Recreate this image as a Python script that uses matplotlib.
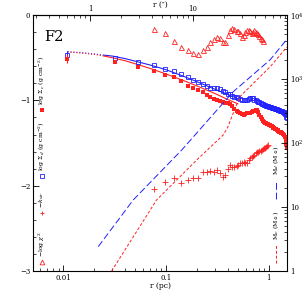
import numpy as np
import matplotlib
matplotlib.use("Agg")
import matplotlib.pyplot as plt
from matplotlib.ticker import FixedLocator, NullFormatter, LogLocator, FuncFormatter

plt.rcParams['font.family'] = ['DejaVu Serif']
plt.rcParams['mathtext.fontset'] = 'dejavuserif'

# ---------------------------------------------------------------------------
# Data
# ---------------------------------------------------------------------------
# ring radii (pc)
r_pc = [0.011, 0.032, 0.054, 0.076, 0.097, 0.119, 0.140, 0.162, 0.184, 0.205,
        0.227, 0.248, 0.270, 0.292, 0.313, 0.335, 0.356, 0.378, 0.400, 0.421,
        0.443, 0.464, 0.486, 0.508, 0.529, 0.551, 0.572, 0.594, 0.616, 0.637,
        0.659, 0.680, 0.702, 0.724, 0.745, 0.767, 0.788, 0.810, 0.832, 0.853,
        0.875, 0.896, 0.918, 0.940, 0.961, 0.983, 1.004, 1.026, 1.048, 1.069,
        1.091, 1.112, 1.134, 1.156, 1.177, 1.199, 1.220, 1.242, 1.264, 1.285,
        1.307, 1.328, 1.350, 1.372, 1.393, 1.415, 1.436, 1.458, 1.480, 1.501]

log_sigma_d = [-0.47, -0.50, -0.55, -0.59, -0.63, -0.66, -0.69, -0.73, -0.76, -0.79,
               -0.81, -0.83, -0.85, -0.855, -0.86, -0.87, -0.89, -0.90, -0.92, -0.93,
               -0.945, -0.955, -0.965, -0.975, -0.98, -0.99, -0.995, -1.00, -0.99, -0.985,
               -0.975, -0.97, -0.975, -0.99, -1.00, -1.01, -1.02, -1.02, -1.03, -1.04,
               -1.045, -1.05, -1.055, -1.06, -1.065, -1.07, -1.075, -1.08, -1.08, -1.085,
               -1.09, -1.09, -1.095, -1.10, -1.10, -1.105, -1.11, -1.11, -1.115, -1.12,
               -1.12, -1.125, -1.13, -1.135, -1.14, -1.15, -1.16, -1.17, -1.19, -1.21]

log_sigma_c = [-0.51, -0.555, -0.606, -0.653, -0.703, -0.72, -0.775, -0.83, -0.85, -0.88,
               -0.90, -0.935, -0.96, -0.98, -1.00, -1.01, -1.015, -1.025, -1.03, -1.04,
               -1.07, -1.10, -1.12, -1.14, -1.15, -1.165, -1.17, -1.16, -1.15, -1.145,
               -1.145, -1.14, -1.13, -1.12, -1.11, -1.115, -1.14, -1.17, -1.20, -1.22,
               -1.24, -1.255, -1.26, -1.27, -1.275, -1.28, -1.285, -1.29, -1.30, -1.305,
               -1.31, -1.32, -1.325, -1.33, -1.34, -1.345, -1.35, -1.36, -1.365, -1.37,
               -1.375, -1.38, -1.385, -1.39, -1.40, -1.41, -1.43, -1.46, -1.51, -1.56]

# chi^2 and k profiles (rings 3..45)
r_prof = r_pc[3:46]
log_chi2 = [-0.168, -0.207, -0.30, -0.375, -0.407, -0.44, -0.454, -0.407, -0.375, -0.313,
            -0.285, -0.258, -0.273, -0.313, -0.313, -0.234, -0.176, -0.149, -0.168, -0.184,
            -0.188, -0.21, -0.254, -0.234, -0.196, -0.176, -0.176, -0.188, -0.21, -0.193,
            -0.18, -0.193, -0.21, -0.223, -0.246, -0.264, -0.281, -0.305]
k_vir = [-2.04, -1.954, -1.914, -1.973, -1.934, -1.907, -1.907, -1.844, -1.844, -1.829,
         -1.837, -1.817, -1.856, -1.896, -1.876, -1.805, -1.759, -1.778, -1.782, -1.77,
         -1.759, -1.739, -1.73, -1.72, -1.73, -1.739, -1.70, -1.68, -1.665, -1.653,
         -1.635, -1.62, -1.61, -1.60, -1.595, -1.59, -1.58, -1.574, -1.563, -1.555,
         -1.545, -1.535, -1.524]

# model fits
r_fit_in = [0.011, 0.015, 0.020, 0.025]
fit_d_in = [-0.43, -0.44, -0.455, -0.47]
fit_c_in = [-0.43, -0.445, -0.46, -0.48]
r_fit = [0.025, 0.03, 0.04, 0.05, 0.07, 0.1, 0.15, 0.2, 0.3, 0.4, 0.5]
fit_d = [-0.47, -0.48, -0.51, -0.54, -0.585, -0.64, -0.72, -0.78, -0.87, -0.93, -0.98]
fit_c = [-0.48, -0.50, -0.535, -0.57, -0.625, -0.69, -0.77, -0.83, -0.92, -0.99, -1.04]

# enclosed masses (Msun)
r_md = [0.0219, 0.048, 0.142, 0.45, 1.03, 1.5]
m_d = [2.4, 12.9, 77.6, 631, 1995, 4170]
r_mc = [0.0296, 0.081, 0.21, 0.36, 0.40, 0.52, 1.03, 1.5]
m_c = [1.0, 12.9, 59, 133, 178, 525, 1550, 3160]

PC_PER_ARCSEC = 0.0182
RED = "#ff2020"
BLUE = "#2020ff"

# ---------------------------------------------------------------------------
# Figure
# ---------------------------------------------------------------------------
fig = plt.figure(figsize=(3.05, 3.05), dpi=100)
ax = fig.add_axes([0.108, 0.1115, 0.834, 0.839])

ax.plot(r_fit_in, fit_d_in, ':', color=BLUE, lw=0.8)
ax.plot(r_fit_in, fit_c_in, ':', color=RED, lw=0.8)
ax.plot(r_fit, fit_d, '-', color=BLUE, lw=0.8)
ax.plot(r_fit, fit_c, '-', color=RED, lw=0.8)

ax.errorbar(r_pc[:1], log_sigma_d[:1], yerr=0.05, fmt='none', ecolor=BLUE, lw=0.8)
ax.errorbar(r_pc[:1], log_sigma_c[:1], yerr=0.05, fmt='none', ecolor=RED, lw=0.8)
ax.plot(r_pc, log_sigma_d, 's', mfc='none', mec=BLUE, ms=3.2, mew=0.6)
ax.plot(r_pc, log_sigma_c, 's', color=RED, ms=3.2, mew=0)
ax.plot(r_prof[:len(log_chi2)], log_chi2, '^', mfc='none', mec=RED, ms=3.6, mew=0.6)
ax.plot(r_prof, k_vir, '+', color=RED, ms=4, mew=0.6)

ax.set_xscale('log')
ax.set_xlim(0.00507, 1.517)
ax.set_ylim(-3, 0)
ax.yaxis.set_major_locator(FixedLocator([-3, -2, -1, 0]))
ax.yaxis.set_minor_locator(FixedLocator(np.arange(-3, 0.01, 0.2)))
ax.yaxis.set_major_formatter(FuncFormatter(lambda v, p: f"{int(round(v))}".replace('-', '\u2212')))
ax.xaxis.set_major_locator(FixedLocator([0.01, 0.1, 1]))
ax.xaxis.set_major_formatter(FuncFormatter(lambda v, p: f"{v:g}"))
ax.xaxis.set_minor_locator(LogLocator(base=10, subs=np.arange(2, 10)))
ax.xaxis.set_minor_formatter(NullFormatter())
ax.tick_params(which='both', direction='in', labelsize=5, top=False, right=False, pad=2)
ax.tick_params(which='major', length=4, width=0.6)
ax.tick_params(which='minor', length=2, width=0.5)
for s in ax.spines.values():
    s.set_linewidth(0.7)

# right axis: enclosed masses
ax2 = ax.twinx()
ax2.set_yscale('log')
ax2.set_ylim(1, 1e4)
ax2.plot(r_md, m_d, color=BLUE, lw=0.7, dashes=(7, 3))
ax2.plot(r_mc, m_c, color=RED, lw=0.7, dashes=(3, 2))
ax2.yaxis.set_major_locator(FixedLocator([1, 10, 100, 1000, 10000]))
ax2.yaxis.set_major_formatter(FuncFormatter(
    lambda v, p: {1: '1', 10: '10', 100: '$10^2$', 1000: '$10^3$', 10000: '$10^4$'}[int(round(v))]))
ax2.yaxis.set_minor_locator(LogLocator(base=10, subs=np.arange(2, 10)))
ax2.yaxis.set_minor_formatter(NullFormatter())
ax2.tick_params(which='both', direction='in', labelsize=5, pad=2)
ax2.tick_params(which='major', length=4, width=0.6)
ax2.tick_params(which='minor', length=2, width=0.5)

# top axis: arcsec
top = ax.secondary_xaxis('top', functions=(lambda r: r / PC_PER_ARCSEC, lambda a: a * PC_PER_ARCSEC))
top.set_xscale('log')
top.xaxis.set_major_locator(FixedLocator([1, 10]))
top.xaxis.set_major_formatter(FuncFormatter(lambda v, p: f"{v:g}"))
top.xaxis.set_minor_locator(LogLocator(base=10, subs=np.arange(2, 10)))
top.xaxis.set_minor_formatter(NullFormatter())
top.tick_params(which='both', direction='in', labelsize=5, pad=1.5)
top.tick_params(which='major', length=4, width=0.6)
top.tick_params(which='minor', length=2, width=0.5)

# axis titles placed in figure coordinates
fig.text(160 / 305, 1 - 5 / 305, 'r (\u2033)', fontsize=5.5, ha='center', va='center')
fig.text(160 / 305, 1 - 286 / 305, 'r (pc)', fontsize=5.5, ha='center', va='center')

ax.text(0.045, 0.94, 'F2', transform=ax.transAxes, fontsize=10.5, va='top', ha='left')

# left in-plot legend (rotated labels)
xl = 0.035
legend_items = [
    (0.63, 's', dict(color=RED, mew=0), r'log $\Sigma_c$ (g cm$^{-2}$)'),
    (0.37, 's', dict(mfc='none', mec=BLUE, mew=0.6), r'log $\Sigma_d$ (g cm$^{-2}$)'),
    (0.228, '+', dict(color=RED, mew=0.6), r'$-k_{vir}$'),
    (0.035, '^', dict(mfc='none', mec=RED, mew=0.6), r'$-$log $\chi^2$'),
]
for yy, mk, kw, lab in legend_items:
    ax.plot([xl], [yy], mk, ms=3.4, transform=ax.transAxes, clip_on=False, **kw)
    ax.text(xl, yy + 0.02, lab, transform=ax.transAxes, rotation=90,
            fontsize=4.5, ha='center', va='bottom')

# right in-plot legend for masses
xr = 0.955
ax.plot([xr, xr], [0.28, 0.35], transform=ax.transAxes, color=BLUE, lw=0.7, dashes=(7, 3))
ax.text(xr, 0.375, r'M$_d$ (M$_\odot$)', transform=ax.transAxes, rotation=90,
        fontsize=4.5, ha='center', va='bottom')
ax.plot([xr, xr], [0.03, 0.10], transform=ax.transAxes, color=RED, lw=0.7, dashes=(3, 2))
ax.text(xr, 0.12, r'M$_c$ (M$_\odot$)', transform=ax.transAxes, rotation=90,
        fontsize=4.5, ha='center', va='bottom')

fig.savefig('out.png', dpi=100)
